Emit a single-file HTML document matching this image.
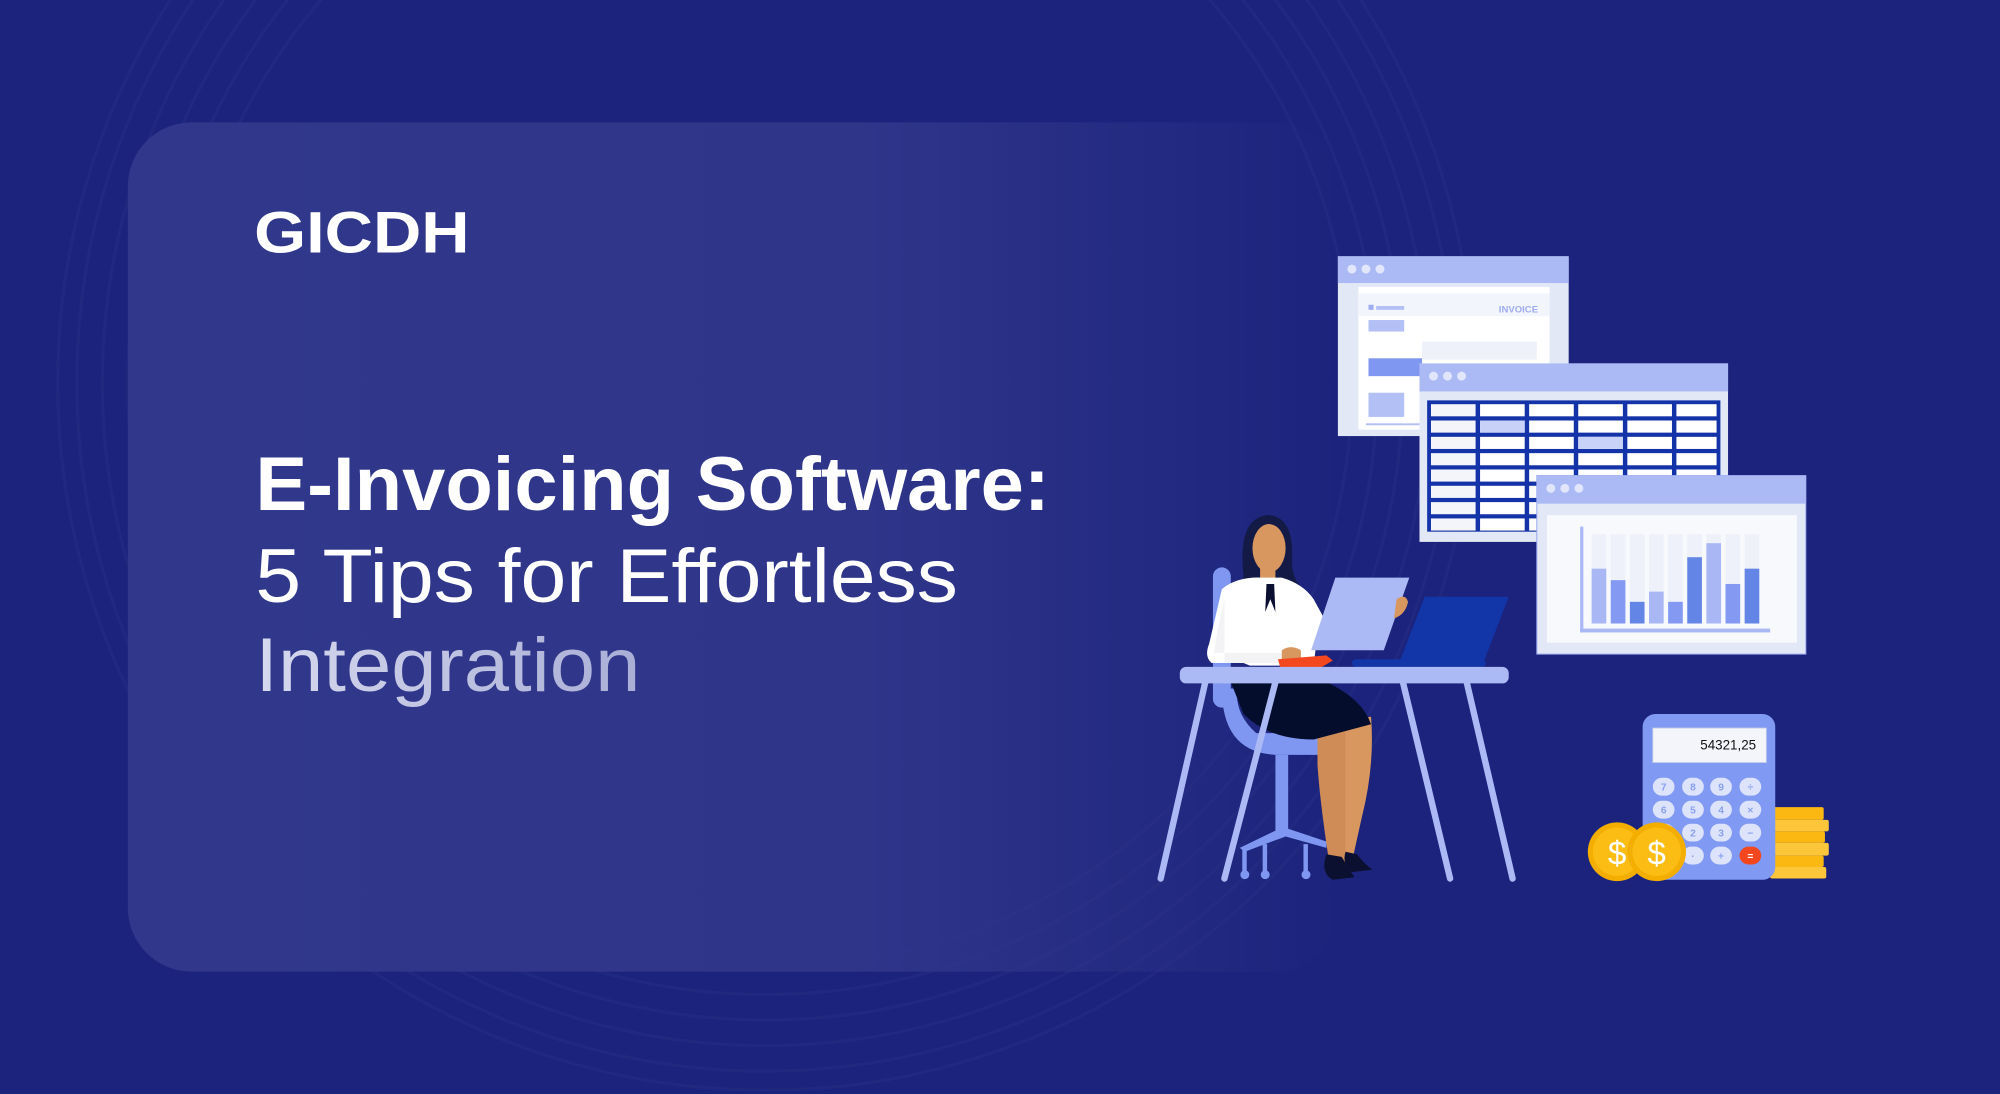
<!DOCTYPE html>
<html><head><meta charset="utf-8"><style>
html,body{margin:0;padding:0;background:#1b237c;width:2000px;height:1094px;overflow:hidden;position:relative;}
svg{display:block;position:absolute;left:0;top:0;overflow:hidden;}
</style></head><body>
<svg width="2000" height="1094" viewBox="0 0 1568 858" xmlns="http://www.w3.org/2000/svg">
<defs>
<linearGradient id="card" x1="0" y1="0" x2="1" y2="0">
<stop offset="0" stop-color="#31388b"/>
<stop offset="0.6" stop-color="#2f368a"/>
<stop offset="1" stop-color="#2f368a" stop-opacity="0"/>
</linearGradient>
<linearGradient id="t3" x1="0" y1="0" x2="1" y2="0">
<stop offset="0" stop-color="#d6d9ee"/>
<stop offset="1" stop-color="#a9aed6"/>
</linearGradient>
<clipPath id="frame"><rect x="0" y="0" width="1568" height="858"/></clipPath>
</defs>
<rect width="1568" height="858" fill="#1b237c"/>
<g clip-path="url(#frame)">
<g fill="none" stroke="#ffffff" stroke-opacity="0.025" stroke-width="2.5">
<circle cx="600" cy="300" r="460"/><circle cx="600" cy="300" r="480"/><circle cx="600" cy="300" r="500"/>
<circle cx="600" cy="300" r="520"/><circle cx="600" cy="300" r="540"/><circle cx="600" cy="300" r="555"/>
</g>
</g>
<rect x="100" y="96" width="950" height="666" rx="50" fill="url(#card)"/>

<text x="199" y="198" font-family="Liberation Sans, sans-serif" font-weight="bold" font-size="46" fill="#fff" textLength="169" lengthAdjust="spacingAndGlyphs">GICDH</text>

<text x="200" y="400" font-family="Liberation Sans, sans-serif" font-weight="bold" font-size="60" fill="#fff" textLength="623" lengthAdjust="spacingAndGlyphs">E-Invoicing Software:</text>
<text x="200" y="472" font-family="Liberation Sans, sans-serif" font-size="60" fill="#fff" textLength="551" lengthAdjust="spacingAndGlyphs">5 Tips for Effortless</text>
<text x="200" y="542" font-family="Liberation Sans, sans-serif" font-size="60" fill="url(#t3)" textLength="302" lengthAdjust="spacingAndGlyphs">Integration</text>

<rect x="1049" y="201" width="181" height="141" fill="#e3e8f7"/>
<rect x="1049" y="201" width="181" height="21" fill="#abbaf5"/>
<g fill="#e1e6fb"><circle cx="1060" cy="211" r="3.5"/><circle cx="1071" cy="211" r="3.5"/><circle cx="1082" cy="211" r="3.5"/></g>
<rect x="1065" y="225" width="150" height="112" fill="#ffffff"/>
<rect x="1065" y="230" width="150" height="18" fill="#f3f5fc"/>
<text x="1206" y="245" text-anchor="end" font-family="Liberation Sans, sans-serif" font-weight="bold" font-size="7.5" fill="#9eadf1">INVOICE</text>
<rect x="1073" y="239" width="4" height="4" fill="#9eadf1"/><rect x="1079" y="240" width="22" height="3" fill="#b3c0f6"/>
<rect x="1073" y="251" width="28" height="9" fill="#b3c0f6"/>
<rect x="1115" y="268" width="90" height="14" fill="#eef1fa"/>
<rect x="1073" y="281" width="42" height="14" fill="#7f97f0"/>
<rect x="1073" y="308" width="28" height="19" fill="#b3c0f6"/>
<rect x="1071" y="332" width="50" height="1.5" fill="#b3c0f6"/>

<rect x="1113" y="285" width="242" height="140" fill="#e3e8f7"/>
<rect x="1113" y="285" width="242" height="22" fill="#abbaf5"/>
<g fill="#e1e6fb"><circle cx="1124" cy="295" r="3.5"/><circle cx="1135" cy="295" r="3.5"/><circle cx="1146" cy="295" r="3.5"/></g>
<rect x="1119" y="314" width="230" height="103" fill="#1533a8"/>
<g fill="#ffffff">
<g id="row">
<rect x="1122" y="317" width="35" height="9.5" fill="#f3f5fb"/><rect x="1160.5" y="317" width="35" height="9.5"/><rect x="1199" y="317" width="35" height="9.5"/><rect x="1237.5" y="317" width="35" height="9.5"/><rect x="1276" y="317" width="35" height="9.5"/><rect x="1314.5" y="317" width="31.5" height="9.5"/>
</g>
<use href="#row" y="12.8"/><use href="#row" y="25.6"/><use href="#row" y="38.4"/><use href="#row" y="51.2"/><use href="#row" y="64"/><use href="#row" y="76.8"/><use href="#row" y="89.6"/>
</g>
<rect x="1160.5" y="329.8" width="35" height="9.5" fill="#c8d2f8"/>
<rect x="1237.5" y="342.6" width="35" height="9.5" fill="#c8d2f8"/>

<rect x="1205" y="373" width="211" height="140" fill="#e3e8f7" stroke="#9aa9ee" stroke-width="0.8"/>
<rect x="1205" y="373" width="211" height="22" fill="#abbaf5"/>
<g fill="#e1e6fb"><circle cx="1216" cy="383" r="3.5"/><circle cx="1227" cy="383" r="3.5"/><circle cx="1238" cy="383" r="3.5"/></g>
<rect x="1213" y="404" width="196" height="100" fill="#f7f9fd"/>
<g fill="#eef1fa">
<rect x="1248" y="419" width="11.5" height="70"/><rect x="1263" y="419" width="11.5" height="70"/><rect x="1278" y="419" width="11.5" height="70"/><rect x="1293" y="419" width="11.5" height="70"/><rect x="1308" y="419" width="11.5" height="70"/><rect x="1323" y="419" width="11.5" height="70"/><rect x="1338" y="419" width="11.5" height="70"/><rect x="1353" y="419" width="11.5" height="70"/><rect x="1368" y="419" width="11.5" height="70"/>
</g>
<rect x="1248" y="446" width="11.5" height="43" fill="#a9b8f5"/>
<rect x="1263" y="455" width="11.5" height="34" fill="#8399f2"/>
<rect x="1278" y="472" width="11.5" height="17" fill="#6385e6"/>
<rect x="1293" y="464" width="11.5" height="25" fill="#a9b8f5"/>
<rect x="1308" y="472" width="11.5" height="17" fill="#8399f2"/>
<rect x="1323" y="437" width="11.5" height="52" fill="#6385e6"/>
<rect x="1338" y="426" width="11.5" height="63" fill="#a9b8f5"/>
<rect x="1353" y="458" width="11.5" height="31" fill="#8399f2"/>
<rect x="1368" y="446" width="11.5" height="43" fill="#6385e6"/>
<rect x="1239" y="413" width="2.5" height="83" fill="#a9b8f5"/>
<rect x="1239" y="493" width="149" height="3" fill="#a9b8f5"/>

<rect x="951" y="445" width="14" height="110" rx="7" fill="#7f97f0"/>
<path d="M958 540 Q958 590 1000 592 L1035 592 Q1040 580 1030 575 L985 575 Q968 560 970 540 Z" fill="#7f97f0"/>
<rect x="1000" y="592" width="10" height="60" fill="#7f97f0"/>
<path d="M972 665 L1003 650 L1010 650 L1040 660 L1040 665 L1008 656 L976 668 Z" fill="#7f97f0"/>
<g fill="#7f97f0"><circle cx="976" cy="686" r="3.5"/><circle cx="992" cy="686" r="3.5"/><circle cx="1024" cy="686" r="3.5"/>
<rect x="974" y="665" width="3.5" height="20"/><rect x="990" y="662" width="3.5" height="22"/><rect x="1022" y="662" width="3.5" height="22"/></g>

<path d="M1033 570 L1075 562 Q1078 600 1068 640 L1060 676 L1050 676 Q1042 630 1040 610 Z" fill="#d99760"/>
<path d="M1033 570 L1055 570 L1055 680 L1043 682 Q1035 630 1033 600 Z" fill="#cf8c57"/>
<path d="M1040 670 L1052 672 Q1058 682 1062 688 L1045 690 Q1035 685 1040 670 Z" fill="#0b1030"/>
<path d="M1055 668 L1064 670 Q1070 678 1076 682 L1060 684 Q1052 678 1055 668 Z" fill="#0b1030"/>
<path d="M965 535 L1040 535 Q1068 548 1075 568 L1030 580 Q995 580 975 560 Z" fill="#050d2c"/>
<path d="M975 452 Q970 405 995 404 Q1015 406 1013 440 Q1013 455 1022 462 L975 462 Z" fill="#121a45"/>
<ellipse cx="995" cy="430" rx="13" ry="19" fill="#d99760"/>
<rect x="988" y="445" width="12" height="12" fill="#d99760"/>
<path d="M958 462 Q970 452 990 453 L1005 453 Q1022 458 1030 470 L1048 503 L1040 510 L1032 505 L1030 522 L980 522 L975 520 L950 520 Q944 515 948 505 Z" fill="#ffffff"/>
<path d="M960 470 Q953 500 952 512 L1005 512 L1005 520 L960 520 Z" fill="#f3f3f6"/>
<path d="M993 458 L999 458 L1000 480 L996 470 L992 480 Z" fill="#0b1030"/>
<path d="M1047 453 L1105 453 L1085 510 L1028 510 Z" fill="#abbaf5"/>
<path d="M1095 470 Q1102 465 1104 472 Q1102 482 1093 485 Z" fill="#d99760"/>
<path d="M1005 510 Q1012 505 1020 510 L1020 520 L1005 520 Z" fill="#d99760"/>
<path d="M1002 517 L1040 514 L1045 518 L1035 524 L1004 524 Z" fill="#f2471f"/>
<path d="M1117 468 L1183 468 L1163 520 L1097 520 Z" fill="#1235a8"/>
<rect x="1060" y="517" width="105" height="6" rx="3" fill="#1235a8"/>
<rect x="925" y="523" width="258" height="13" rx="5" fill="#abbaf5"/>
<g stroke="#abbaf5" stroke-width="5" stroke-linecap="round">
<line x1="945" y1="535" x2="910" y2="689"/><line x1="1000" y1="535" x2="960" y2="689"/>
<line x1="1100" y1="535" x2="1137" y2="689"/><line x1="1150" y1="535" x2="1186" y2="689"/>
</g>

<g fill="#fbb812">
<rect x="1388" y="633" width="42" height="10" rx="1.5"/><rect x="1388" y="643" width="46" height="9" rx="1.5" fill="#fcc63a"/>
<rect x="1388" y="652" width="43" height="9" rx="1.5"/><rect x="1388" y="661" width="46" height="10" rx="1.5" fill="#fcc63a"/>
<rect x="1388" y="671" width="42" height="9" rx="1.5"/><rect x="1388" y="680" width="44" height="9" rx="1.5" fill="#fcc63a"/>
</g>
<rect x="1288" y="560" width="104" height="130" rx="10" fill="#8099f2"/>
<rect x="1296" y="571" width="89" height="27" fill="#f3f5fb" stroke="#c5cde8" stroke-width="0.7"/>
<text x="1377" y="588" text-anchor="end" font-family="Liberation Sans, sans-serif" font-size="10.5" fill="#111">54321,25</text>
<g fill="#dde3fa">
<rect x="1296" y="610" width="17" height="14" rx="7"/><rect x="1319" y="610" width="17" height="14" rx="7"/><rect x="1341" y="610" width="17" height="14" rx="7"/><rect x="1364" y="610" width="17" height="14" rx="7"/>
<rect x="1296" y="628" width="17" height="14" rx="7"/><rect x="1319" y="628" width="17" height="14" rx="7"/><rect x="1341" y="628" width="17" height="14" rx="7"/><rect x="1364" y="628" width="17" height="14" rx="7"/>
<rect x="1296" y="646" width="17" height="14" rx="7"/><rect x="1319" y="646" width="17" height="14" rx="7"/><rect x="1341" y="646" width="17" height="14" rx="7"/><rect x="1364" y="646" width="17" height="14" rx="7"/>
<rect x="1296" y="664" width="17" height="14" rx="7"/><rect x="1319" y="664" width="17" height="14" rx="7"/><rect x="1341" y="664" width="17" height="14" rx="7"/>
</g>
<rect x="1364" y="664" width="17" height="14" rx="7" fill="#f2471f"/>
<g font-family="Liberation Sans, sans-serif" font-weight="bold" font-size="8" fill="#8aa0ee" text-anchor="middle">
<text x="1304.5" y="620">7</text><text x="1327.5" y="620">8</text><text x="1349.5" y="620">9</text><text x="1372.5" y="620">÷</text>
<text x="1304.5" y="638">6</text><text x="1327.5" y="638">5</text><text x="1349.5" y="638">4</text><text x="1372.5" y="638">×</text>
<text x="1327.5" y="656">2</text><text x="1349.5" y="656">3</text><text x="1372.5" y="656">−</text>
<text x="1327.5" y="674">·</text><text x="1349.5" y="674">+</text><text x="1372.5" y="674" fill="#fff">=</text>
</g>
<circle cx="1268" cy="668" r="23" fill="#f3ae00"/><circle cx="1268" cy="668" r="19" fill="#fbbd14"/>
<text x="1268" y="678" text-anchor="middle" font-family="Liberation Sans, sans-serif" font-size="26" fill="#fff">$</text>
<circle cx="1299" cy="668" r="23" fill="#f3ae00"/><circle cx="1299" cy="668" r="19" fill="#fbbd14"/>
<text x="1299" y="678" text-anchor="middle" font-family="Liberation Sans, sans-serif" font-size="26" fill="#fff">$</text>
</svg>
</body></html>
